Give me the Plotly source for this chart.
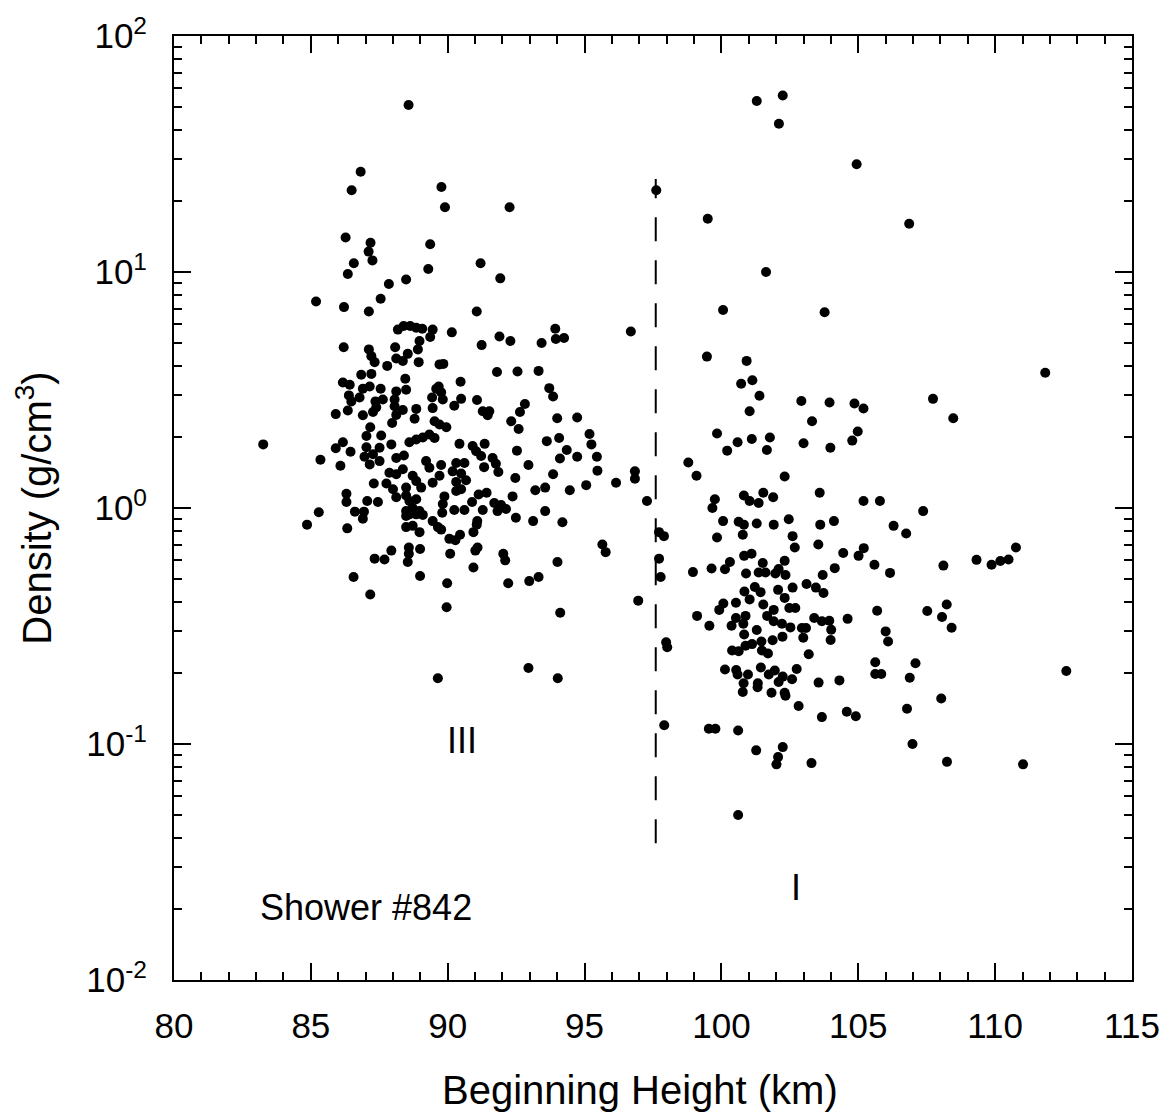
import math
import plotly.graph_objects as go

# Beginning height (km) and bulk density (g/cm^3) of Shower #842 meteors
height_km = [
    88.57, 86.82, 86.49, 89.77, 89.90, 92.26, 86.27, 87.18, 87.11, 87.25,
    86.57, 86.35, 89.36, 89.29, 91.20, 91.92, 88.48, 87.85, 87.55, 85.19,
    86.21, 87.12, 91.06, 88.18, 88.39, 88.63, 88.85, 89.07, 89.45, 89.36,
    88.97, 86.20, 87.12, 88.08, 88.91, 88.54, 88.12, 88.36, 87.21, 87.33,
    88.94, 87.79, 89.70, 86.84, 87.21, 88.45, 86.17, 86.42, 86.90, 87.15,
    87.55, 88.12, 88.48, 89.58, 86.39, 86.78, 86.48, 87.36, 87.63, 88.06,
    89.43, 87.39, 88.06, 88.36, 89.45, 88.85, 86.35, 87.27, 85.91, 86.90,
    88.12, 88.79, 89.52, 87.97, 87.17, 83.26, 87.03, 87.57, 88.60, 88.85,
    89.09, 89.33, 89.52, 86.17, 87.94, 85.91, 86.45, 87.03, 87.51, 86.96,
    87.27, 87.51, 87.15, 88.12, 88.40, 85.35, 86.08, 89.21, 89.33, 87.87,
    88.12, 88.36, 88.72, 88.85, 87.76, 87.30, 89.45, 88.00, 88.48, 89.03,
    86.30, 86.30, 87.06, 87.45, 88.12, 88.48, 88.60, 88.85, 88.72, 88.48,
    88.97, 85.29, 86.61, 86.94, 86.90, 84.86,
    90.15, 91.89, 92.29, 91.24, 93.93, 93.95, 94.25, 93.43, 96.69, 89.84,
    91.80, 92.55, 93.32, 90.47, 89.67, 89.76, 89.82, 90.49, 90.24, 91.07,
    93.71, 93.85, 92.82, 92.64, 91.28, 91.52, 91.46, 89.70, 89.95, 92.32,
    92.59, 94.00, 94.73, 95.18, 95.25, 95.45, 95.47, 96.15, 93.62, 94.07,
    94.35, 94.10, 94.73, 90.43, 90.91, 91.35, 91.04, 91.22, 91.64, 91.76,
    91.85, 92.53, 92.95, 91.33, 89.76, 90.31, 90.61, 90.18, 90.49, 89.70,
    90.67, 90.31, 93.85, 92.47, 95.06, 93.20, 93.56, 94.46, 90.31, 90.49,
    89.88, 91.13, 91.42, 92.37, 90.89, 91.70, 89.82, 91.95, 92.13, 91.82,
    90.24, 90.61, 91.28, 89.80, 93.56, 92.49, 93.12, 94.19, 91.08,
    88.48, 88.60, 88.85, 89.09, 89.45, 89.64, 88.48, 88.97, 88.72, 86.33,
    87.94, 87.33, 87.69, 88.58, 88.58, 88.54, 88.99, 86.56, 88.99, 87.17,
    89.64,
    89.76, 90.06, 90.45, 90.28, 91.06, 90.94, 91.09, 91.01, 90.09, 92.03,
    92.10, 90.94, 94.01, 95.65, 95.77, 89.98, 92.21, 92.98, 93.32, 89.96,
    94.11, 96.96, 92.95, 94.02, 96.84, 96.84, 97.28,
    97.72, 97.90, 97.72, 97.78, 97.98, 98.02,
    101.29, 102.24, 102.10, 104.94, 97.62, 99.50, 106.86, 101.63, 100.06, 103.77,
    111.83,
    99.47, 100.92, 100.72, 101.13, 101.39, 101.03, 102.92, 103.95, 104.86, 105.19,
    103.31, 104.98, 104.78, 99.84, 100.59, 101.11, 101.77, 100.21, 101.66, 103.00,
    103.98, 98.79, 99.09, 102.31, 103.59, 105.19, 105.79, 99.76, 99.67, 100.82,
    101.03, 101.36, 101.53, 101.89, 100.06, 100.63, 100.82, 101.29, 101.91, 102.46,
    103.61, 104.11, 99.84, 100.78, 102.60,
    107.73, 108.47, 107.37, 106.29, 106.75,
    102.68, 103.54, 104.45, 105.20, 105.01, 105.59, 98.96, 99.64, 100.13, 100.31,
    100.83, 101.10, 101.51, 100.90, 101.36, 101.61, 101.97, 102.31, 102.09, 102.34,
    103.70, 104.14, 103.11, 103.45, 103.73, 102.60, 102.07, 102.31, 101.22, 101.43,
    100.84, 101.03, 101.53, 100.53, 100.07, 99.92, 99.11, 99.56, 100.37, 100.53,
    100.88, 100.80, 101.91, 102.48, 102.70, 101.67, 101.91, 102.21, 102.52, 101.29,
    100.83, 102.23, 101.87, 102.94, 103.09, 102.99, 103.39, 103.67, 103.94, 104.01,
    103.99, 104.61, 105.69, 100.39, 100.63, 100.88, 101.12, 101.46, 101.48, 101.70,
    103.19, 100.13, 100.54, 100.59, 100.97, 101.44, 101.95, 101.73, 102.24, 102.58,
    102.75, 102.09, 100.81, 101.33, 101.32, 100.78, 101.83, 102.31, 102.34, 103.55,
    104.31, 105.62, 105.62, 102.82, 103.67, 104.58, 104.91, 99.54, 99.78, 100.61,
    106.16, 108.11, 109.32, 109.87, 110.19, 110.49, 110.76, 107.52, 108.23, 108.06,
    108.41, 106.00, 106.09, 105.84, 107.09, 106.88, 108.03, 106.78, 112.60,
    97.91, 101.27, 102.24, 102.07, 102.01, 103.29, 106.98, 108.24, 111.02, 100.61,
]

density = [
    51.0, 26.6, 22.2, 22.9, 18.8, 18.8, 14.0, 13.3, 12.2, 11.2,
    10.9, 9.8, 13.1, 10.3, 10.9, 9.4, 9.3, 8.9, 7.7, 7.5,
    7.1, 6.8, 6.8, 5.7, 5.9, 5.9, 5.8, 5.75, 5.7, 5.3,
    5.1, 4.8, 4.7, 4.8, 4.7, 4.5, 4.3, 4.2, 4.4, 4.15,
    4.15, 4.0, 4.06, 3.67, 3.7, 3.53, 3.4, 3.33, 3.2, 3.27,
    3.2, 3.12, 3.17, 3.2, 3.0, 2.94, 2.83, 2.83, 2.88, 2.88,
    2.94, 2.67, 2.70, 2.6, 2.65, 2.63, 2.59, 2.55, 2.5, 2.47,
    2.48, 2.39, 2.33, 2.29, 2.2, 1.86, 2.02, 2.03, 1.9, 1.95,
    1.99, 2.05, 1.98, 1.9, 1.86, 1.79, 1.73, 1.81, 1.8, 1.65,
    1.69, 1.58, 1.53, 1.63, 1.67, 1.6, 1.51, 1.58, 1.48, 1.41,
    1.39, 1.46, 1.37, 1.30, 1.27, 1.27, 1.28, 1.2, 1.22, 1.22,
    1.15, 1.06, 1.07, 1.06, 1.11, 1.13, 1.07, 1.09, 1.0, 0.97,
    0.97, 0.96, 0.965, 0.965, 0.90, 0.85,
    5.55, 5.33, 5.1, 4.9, 5.75, 5.2, 5.25, 5.0, 5.6, 4.08,
    3.77, 3.79, 3.81, 3.43, 3.27, 3.09, 2.88, 2.9, 2.71, 2.87,
    3.22, 2.97, 2.76, 2.55, 2.57, 2.57, 2.47, 2.26, 2.2, 2.33,
    2.16, 2.4, 2.42, 2.06, 1.86, 1.65, 1.44, 1.28, 1.92, 1.98,
    1.76, 1.62, 1.65, 1.87, 1.83, 1.87, 1.74, 1.66, 1.63, 1.54,
    1.42, 1.75, 1.52, 1.49, 1.52, 1.55, 1.55, 1.43, 1.40, 1.37,
    1.31, 1.29, 1.39, 1.34, 1.25, 1.19, 1.22, 1.19, 1.18, 1.2,
    1.12, 1.14, 1.16, 1.12, 1.06, 1.05, 1.04, 1.03, 0.99, 0.97,
    0.98, 0.98, 0.98, 0.955, 0.97, 0.91, 0.88, 0.87, 0.88,
    0.925, 0.94, 0.94, 0.935, 0.88, 0.83, 0.83, 0.79, 0.84, 0.82,
    0.66, 0.61, 0.605, 0.68, 0.64, 0.59, 0.67, 0.51, 0.515, 0.43,
    0.19,
    0.81, 0.74, 0.77, 0.73, 0.85, 0.79, 0.68, 0.66, 0.64, 0.64,
    0.6, 0.56, 0.59, 0.70, 0.65, 0.48, 0.48, 0.49, 0.51, 0.38,
    0.36, 0.405, 0.21, 0.19, 1.43, 1.33, 1.07,
    0.79, 0.76, 0.61, 0.51, 0.27, 0.257,
    53.0, 56.0, 42.5, 28.6, 22.2, 16.8, 16.0, 10.0, 6.9, 6.75,
    3.74,
    4.38, 4.2, 3.36, 3.48, 2.99, 2.57, 2.84, 2.80, 2.77, 2.64,
    2.33, 2.11, 1.93, 2.07, 1.9, 1.96, 1.99, 1.75, 1.76, 1.88,
    1.80, 1.56, 1.37, 1.36, 1.16, 1.07, 1.07, 1.09, 1.0, 1.13,
    1.07, 1.05, 1.16, 1.11, 0.88, 0.875, 0.85, 0.86, 0.85, 0.896,
    0.85, 0.88, 0.75, 0.77, 0.76,
    2.9, 2.4, 0.97, 0.84, 0.78,
    0.68, 0.70, 0.645, 0.676, 0.627, 0.575, 0.535, 0.554, 0.55, 0.59,
    0.627, 0.64, 0.585, 0.528, 0.533, 0.533, 0.528, 0.597, 0.551, 0.52,
    0.52, 0.556, 0.476, 0.46, 0.436, 0.46, 0.45, 0.416, 0.463, 0.44,
    0.443, 0.41, 0.39, 0.397, 0.394, 0.37, 0.349, 0.317, 0.317, 0.342,
    0.349, 0.323, 0.37, 0.377, 0.377, 0.349, 0.331, 0.323, 0.312, 0.304,
    0.291, 0.285, 0.275, 0.31, 0.31, 0.282, 0.342, 0.331, 0.333, 0.305,
    0.276, 0.339, 0.367, 0.249, 0.247, 0.261, 0.265, 0.272, 0.249, 0.242,
    0.24, 0.207, 0.206, 0.197, 0.197, 0.211, 0.205, 0.197, 0.193, 0.188,
    0.208, 0.183, 0.181, 0.181, 0.174, 0.166, 0.165, 0.165, 0.16, 0.182,
    0.186, 0.222, 0.198, 0.145, 0.13, 0.137, 0.131, 0.116, 0.116, 0.114,
    0.531, 0.57, 0.603, 0.575, 0.596, 0.605, 0.68, 0.366, 0.39, 0.345,
    0.311, 0.30, 0.272, 0.198, 0.22, 0.191, 0.156, 0.141, 0.204,
    0.12, 0.094, 0.097, 0.088, 0.082, 0.083, 0.10, 0.084, 0.082, 0.05,
]

# Boundary between the two populations
divider_km = 97.6
divider_span = [0.038, 24.8]

# Population / shower labels: (height km, density g/cm^3, text, anchor)
labels = [
    (90.54, 0.103, "III", "center"),
    (102.71, 0.0246, "I", "center"),
    (83.06, 0.0202, "Shower #842", "left"),
]

# Axis ticks
x_ticks = [80, 85, 90, 95, 100, 105, 110, 115]
y_ticks = [0.01, 0.1, 1, 10, 100]
y_tick_text = ["10<sup>-2</sup>", "10<sup>-1</sup>", "10<sup>0</sup>",
               "10<sup>1</sup>", "10<sup>2</sup>"]
x_minor = [v for v in range(80, 116) if v % 5]
y_minor = [m * 10.0 ** e for e in range(-2, 2) for m in range(2, 10)]

FONT = "Liberation Sans, Arial, Helvetica, sans-serif"

fig = go.Figure()
fig.add_trace(go.Scatter(
    x=height_km, y=density, mode="markers",
    marker=dict(color="black", size=10, line=dict(width=0)),
    showlegend=False, hoverinfo="x+y",
))

fig.add_shape(type="line", xref="x", yref="y",
              x0=divider_km, x1=divider_km,
              y0=divider_span[0], y1=divider_span[1],
              line=dict(color="black", width=2, dash="24px,19px"))

# annotation positions on a log axis are given in log10 units
for lx, ly, txt, anchor in labels:
    fig.add_annotation(x=lx, y=math.log10(ly), text=txt, showarrow=False,
                       xanchor=anchor,
                       font=dict(size=36, color="black", family=FONT))

# x-axis title, set slightly left of the axis centre
fig.add_annotation(xref="paper", yref="paper", x=0.4865, y=-0.1162,
                   xanchor="center", yanchor="middle", showarrow=False,
                   text="Beginning Height (km)",
                   font=dict(size=40, color="black", family=FONT))

axis_common = dict(
    showline=True, linecolor="black", linewidth=2, mirror="ticks",
    ticks="inside", ticklen=17, tickwidth=2, tickcolor="black",
    showgrid=False, zeroline=False,
    tickfont=dict(size=35, color="black", family=FONT),
)

fig.update_xaxes(
    range=[80, 115], tickvals=x_ticks, ticklabelstandoff=14,
    minor=dict(tickvals=x_minor, ticks="inside", ticklen=8,
               tickwidth=2, tickcolor="black", showgrid=False),
    **axis_common,
)
fig.update_yaxes(
    type="log", range=[-2, 2], tickvals=y_ticks, ticktext=y_tick_text,
    ticklabelstandoff=18,
    title=dict(text="Density (g/cm<sup>3</sup>)", standoff=22,
               font=dict(size=40, color="black", family=FONT)),
    minor=dict(tickvals=y_minor, ticks="inside", ticklen=8,
               tickwidth=2, tickcolor="black", showgrid=False),
    **axis_common,
)

fig.update_layout(
    width=1172, height=1120,
    margin=dict(l=174, r=38, t=33, b=140),
    plot_bgcolor="white", paper_bgcolor="white",
    font=dict(family=FONT, color="black"),
)

fig.write_html("out.html")
